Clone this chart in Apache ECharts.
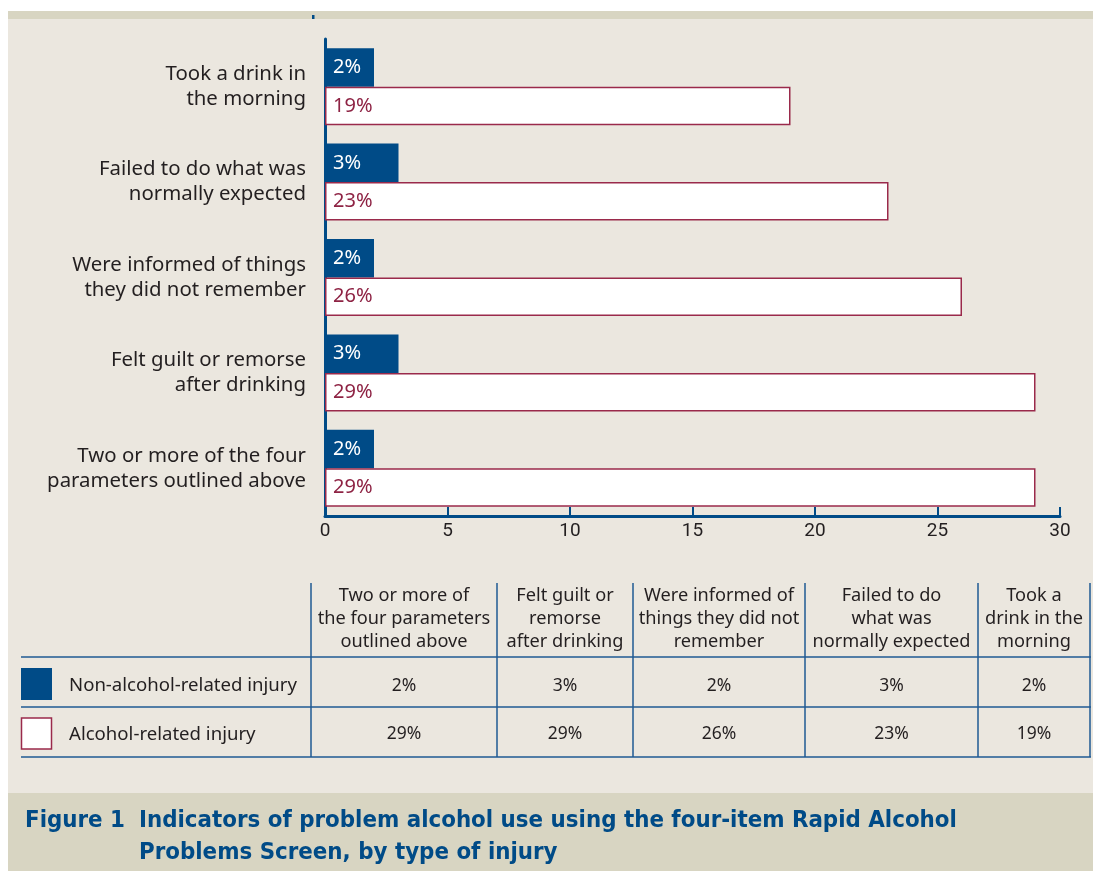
<!DOCTYPE html>
<html>
<head>
<meta charset="utf-8">
<script src="https://cdn.jsdelivr.net/npm/echarts@6/dist/echarts.min.js"></script>
<style>
html,body{margin:0;padding:0;background:#ffffff;}
#chart{width:1093px;height:871px;}
</style>
</head>
<body>
<div id="chart"></div>
<script>
// ---- data ----
const categories = [
  "Two or more of the four parameters outlined above",
  "Felt guilt or remorse after drinking",
  "Were informed of things they did not remember",
  "Failed to do what was normally expected",
  "Took a drink in the morning"
];
const axisLabels = [
  "Two or more of the four\nparameters outlined above",
  "Felt guilt or remorse\nafter drinking",
  "Were informed of things\nthey did not remember",
  "Failed to do what was\nnormally expected",
  "Took a drink in\nthe morning"
];
const tableHeaders = [
  "Two or more of\nthe four parameters\noutlined above",
  "Felt guilt or\nremorse\nafter drinking",
  "Were informed of\nthings they did not\nremember",
  "Failed to do\nwhat was\nnormally expected",
  "Took a\ndrink in the\nmorning"
];
const seriesNames = ["Non-alcohol-related injury", "Alcohol-related injury"];
const nonAlcohol = [2, 3, 2, 3, 2];
const alcohol = [29, 29, 26, 23, 19];
const xTicks = [0, 5, 10, 15, 20, 25, 30];
const captionLabel = "Figure 1";
const captionLines = [
  "Indicators of problem alcohol use using the four-item Rapid Alcohol",
  "Problems Screen, by type of injury"
];

// ---- styles ----
const NAVY = '#004b87';
const MAROON = '#9a2a4b';
const TEXT = '#231f20';
const PANEL = '#ebe7df';
const BAND = '#d8d5c2';
const FONT = '"Noto Sans"';
const CAPFONT = '"DejaVu Sans Condensed"';

const chart = echarts.init(document.getElementById('chart'));

// table layout
const colX = [311, 497, 633, 805, 978, 1090];
const rowY = [583, 657, 707, 757];
const graphics = [];
graphics.push({type:'rect', z:-100, shape:{x:8, y:11, width:1085, height:8}, style:{fill:BAND}});
graphics.push({type:'rect', z:-100, shape:{x:8, y:19, width:1085, height:774}, style:{fill:PANEL}});
graphics.push({type:'rect', z:-100, shape:{x:8, y:793, width:1085, height:78}, style:{fill:BAND}});
graphics.push({type:'rect', z:-99, shape:{x:312, y:15, width:2.5, height:4}, style:{fill:NAVY}});
// caption
graphics.push({type:'text', x:25, y:821, style:{text:captionLabel, fill:NAVY, font:'bold 23.8px ' + CAPFONT, verticalAlign:'middle'}});
captionLines.forEach((t, i) => {
  graphics.push({type:'text', x:139, y:821 + i * 32, style:{text:t, fill:NAVY, font:'bold 23.8px ' + CAPFONT, verticalAlign:'middle'}});
});
// table lines
[rowY[1], rowY[2], rowY[3]].forEach(y => {
  graphics.push({type:'line', shape:{x1:21, y1:y, x2:1091, y2:y}, style:{stroke:'#1f5a93', lineWidth:1.5}});
});
colX.forEach(x => {
  graphics.push({type:'line', shape:{x1:x, y1:rowY[0], x2:x, y2:rowY[3]}, style:{stroke:'#1f5a93', lineWidth:1.5}});
});
// headers and values
tableHeaders.forEach((h, i) => {
  const cx = (colX[i] + colX[i + 1]) / 2;
  graphics.push({type:'text', x:cx, y:619, style:{text:h, fill:TEXT, font:'18.2px ' + FONT, align:'center', verticalAlign:'middle', lineHeight:23}});
  graphics.push({type:'text', x:cx, y:686, style:{text:nonAlcohol[i] + '%', fill:TEXT, font:'17.5px ' + FONT, align:'center', verticalAlign:'middle'}});
  graphics.push({type:'text', x:cx, y:734, style:{text:alcohol[i] + '%', fill:TEXT, font:'17.5px ' + FONT, align:'center', verticalAlign:'middle'}});
});
// legend swatches
graphics.push({type:'rect', shape:{x:21, y:668, width:31, height:32}, style:{fill:NAVY}});
graphics.push({type:'rect', shape:{x:21.5, y:718, width:30, height:31}, style:{fill:'#ffffff', stroke:MAROON, lineWidth:1.5}});
graphics.push({type:'text', x:69, y:686, style:{text:seriesNames[0], fill:TEXT, font:'18.6px ' + FONT, verticalAlign:'middle'}});
graphics.push({type:'text', x:69, y:735, style:{text:seriesNames[1], fill:TEXT, font:'18.6px ' + FONT, verticalAlign:'middle'}});

const option = {
  backgroundColor: '#ffffff',
  animation: false,
  textStyle: {fontFamily: FONT},
  grid: {left: 325, right: 33, top: 39, bottom: 355, containLabel: false},
  xAxis: {
    type: 'value', min: xTicks[0], max: xTicks[xTicks.length - 1], interval: xTicks[1] - xTicks[0],
    axisLine: {show: true, lineStyle: {color: NAVY, width: 3}},
    axisTick: {show: true, inside: true, length: 9, lineStyle: {color: NAVY, width: 2}},
    splitLine: {show: false},
    axisLabel: {fontSize: 19, color: TEXT, margin: 6, fontFamily: 'Roboto'}
  },
  yAxis: {
    type: 'category', data: axisLabels,
    axisLine: {show: true, lineStyle: {color: NAVY, width: 3}},
    axisTick: {show: false},
    axisLabel: {fontSize: 20.4, color: TEXT, margin: 19, lineHeight: 25, align: 'right', fontFamily: FONT}
  },
  graphic: graphics,
  series: [
    {
      name: seriesNames[0], type: 'bar', data: nonAlcohol,
      barWidth: 38.5, barGap: '0%',
      itemStyle: {color: NAVY},
      label: {show: true, position: 'insideLeft', distance: 8, formatter: '{c}%', fontSize: 20, color: '#ffffff', fontFamily: FONT}
    },
    {
      name: seriesNames[1], type: 'bar', data: alcohol,
      barWidth: 38.5, barGap: '0%',
      itemStyle: {color: '#ffffff', borderColor: MAROON, borderWidth: 1.5},
      label: {show: true, position: 'insideLeft', distance: 8, formatter: '{c}%', fontSize: 20, color: '#8e2344', fontFamily: FONT}
    }
  ]
};
chart.setOption(option);
</script>
</body>
</html>
